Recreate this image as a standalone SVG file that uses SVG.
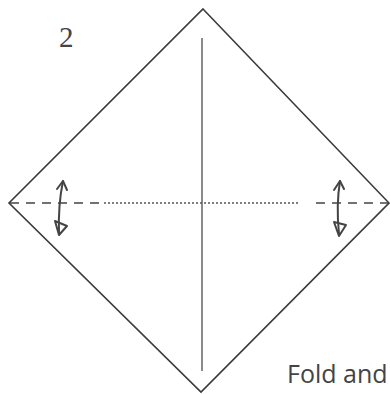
<svg xmlns="http://www.w3.org/2000/svg" width="390" height="394" viewBox="0 0 390 394">
<style>
.edge{fill:none;stroke:#3a3a3a;stroke-width:1.6}
.crease{fill:none;stroke:#8a8a8a;stroke-width:2}
.valley{fill:none;stroke:#444;stroke-width:1.6;stroke-dasharray:9 7}
.dots{fill:none;stroke:#555;stroke-width:1.4;stroke-dasharray:2 2}
.arr{fill:none;stroke:#444;stroke-width:2;stroke-linecap:round;stroke-linejoin:round}
text{fill:#444}
</style>
<rect width="390" height="394" fill="#fff"/>
<g id="paper">
<polygon class="edge" points="203,9 389,203 201,392 9,203"/>
</g>
<g id="connectors">
<line class="crease" x1="202" y1="38" x2="202" y2="371"/>
<line class="valley" x1="10" y1="203" x2="102" y2="203"/>
<line class="dots" x1="104" y1="203" x2="298" y2="203"/>
<line class="valley" x1="316" y1="203" x2="388" y2="203"/>
</g>
<g id="arrow-left">
<path class="arr" d="M63,181 Q58,205 59,234"/>
<path class="arr" d="M57,189 L63,181 L67,190"/>
<path class="arr" d="M55,221 L59,235 L67,226 Z"/>
</g>
<g id="arrow-right">
<path class="arr" d="M340,181 Q336,205 339,234"/>
<path class="arr" d="M334,190 L340,181 L344,189"/>
<path class="arr" d="M334,222 L339,236 L346,225 Z"/>
</g>
<g id="step-number">
<text x="59" y="47" font-family="Liberation Serif, serif" font-size="29">2</text>
</g>
<g id="caption">
<text x="287" y="383" font-family="Open Sans, Liberation Sans, sans-serif" font-size="25">Fold and</text>
</g>
</svg>
